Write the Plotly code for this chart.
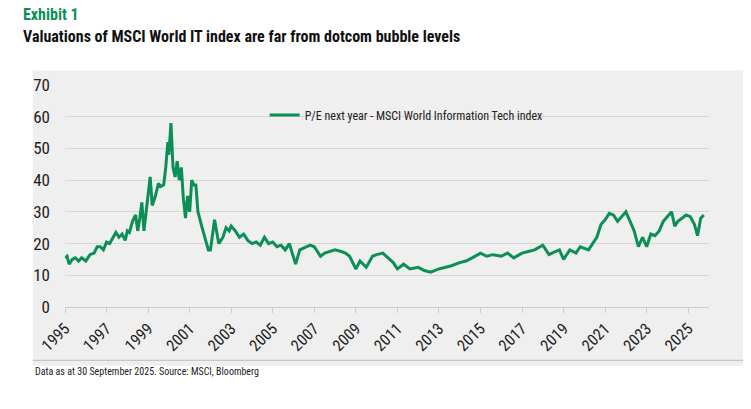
import plotly.graph_objects as go

# decimal year and forward P/E
years = [1995.0, 1995.1, 1995.2, 1995.35, 1995.5, 1995.65, 1995.8, 1995.9, 1996.0, 1996.2, 1996.4,
         1996.55, 1996.7, 1996.85, 1997.0, 1997.15, 1997.3, 1997.45, 1997.6, 1997.75, 1997.9,
         1998.0, 1998.1, 1998.25, 1998.4, 1998.5, 1998.6, 1998.7, 1998.8, 1998.9, 1999.0, 1999.1,
         1999.2, 1999.35, 1999.5, 1999.6, 1999.75, 1999.85, 1999.95, 2000.0, 2000.1, 2000.2,
         2000.3, 2000.4, 2000.5, 2000.6, 2000.7, 2000.8, 2000.9, 2001.0, 2001.1, 2001.2, 2001.3,
         2001.4, 2001.6, 2001.75, 2001.9, 2002.0, 2002.2, 2002.4, 2002.6, 2002.75, 2002.9, 2003.0,
         2003.2, 2003.4, 2003.6, 2003.8, 2004.0, 2004.2, 2004.4, 2004.6, 2004.8, 2005.0, 2005.2,
         2005.4, 2005.6, 2005.8, 2006.0, 2006.1, 2006.3, 2006.5, 2006.8, 2007.0, 2007.3, 2007.5,
         2007.7, 2008.0, 2008.3, 2008.5, 2008.7, 2009.0, 2009.2, 2009.5, 2009.8, 2010.0, 2010.3,
         2010.6, 2010.8, 2011.0, 2011.3, 2011.6, 2012.0, 2012.3, 2012.6, 2013.0, 2013.3, 2013.6,
         2014.0, 2014.3, 2014.6, 2015.0, 2015.3, 2015.6, 2016.0, 2016.3, 2016.6, 2017.0, 2017.3,
         2017.6, 2018.0, 2018.3, 2018.6, 2018.8, 2019.0, 2019.3, 2019.6, 2019.8, 2020.0, 2020.2,
         2020.4, 2020.6, 2020.8, 2021.0, 2021.2, 2021.4, 2021.6, 2021.8, 2022.0, 2022.2, 2022.4,
         2022.6, 2022.8, 2023.0, 2023.2, 2023.4, 2023.6, 2023.8, 2024.0, 2024.2, 2024.35, 2024.5,
         2024.7, 2024.9, 2025.1, 2025.3, 2025.45, 2025.6, 2025.75]
pe = [15.5, 16, 13.5, 15, 15.5, 14.5, 15.5, 15, 14.5, 16.5, 17,
      19, 19, 18, 20.5, 20, 22, 23.5, 22, 23, 21,
      24, 23.5, 27, 29, 24, 28, 33, 24, 30, 37, 41,
      32, 35, 39, 38, 38.5, 44, 52, 48, 58, 44,
      41, 46, 40, 44, 34, 28, 35, 30, 40, 38.5, 38.5,
      30, 25, 21.5, 18, 18, 27.5, 20, 22, 25, 24, 25.5,
      24, 22, 23, 21, 20, 20.5, 19.5, 22, 20, 20.5, 19,
      19.5, 18, 20, 16, 13.5, 18, 18.5, 19.5, 19, 16, 17,
      17.5, 18, 17.5, 17, 16, 12, 14.5, 12.5, 16, 16.5, 17,
      15, 14, 12, 13.5, 12, 12.5, 11.5, 11, 12, 12.5, 13,
      14, 14.5, 15.5, 17, 16, 16.5, 16, 17, 15.5, 17, 17.5,
      18, 19.5, 16.5, 17.5, 18, 15, 18, 17, 19, 18.5, 18,
      20, 22, 26, 27.5, 29.5, 29, 27, 28.5, 30, 27, 24,
      19, 22, 19, 23, 22.5, 24, 27, 28.5, 30, 25.5, 27,
      28, 29, 28.5, 26, 22.5, 28, 29]

tick_years = list(range(1995, 2026, 2))
green = "#0b8f57"

fig = go.Figure()
fig.add_trace(go.Scatter(x=years, y=pe, mode="lines", line=dict(color=green, width=3),
                         name="P/E next year - MSCI World Information Tech index"))

fig.add_shape(type="rect", xref="paper", yref="paper", x0=-0.05, x1=1.065, y0=-0.265, y1=1.065,
              fillcolor="#efefef", line_width=0, layer="below")
fig.add_shape(type="line", xref="paper", yref="paper", x0=-0.05, x1=1.065, y0=-0.24, y1=-0.24,
              line=dict(color="#bbbbbb", width=1))

fig.update_layout(
    width=751, height=409, paper_bgcolor="white", plot_bgcolor="#efefef",
    margin=dict(l=57, r=50, t=77, b=110),
    font=dict(family="Roboto Condensed, Roboto", color="#222222"),
    showlegend=True,
    legend=dict(x=0.31, y=0.93, bgcolor="rgba(0,0,0,0)", font=dict(size=12)),
    xaxis=dict(range=[1995, 2026.0], tickvals=tick_years, ticktext=[str(y) for y in tick_years],
               tickangle=-45, tickfont=dict(size=16), showgrid=False, ticks="outside",
               tickcolor="#cccccc", ticklen=5, showline=True, linecolor="#cccccc", zeroline=False),
    yaxis=dict(range=[0, 70], dtick=10, tickfont=dict(size=17), gridcolor="#d6d6d6",
               zeroline=False, ticks="", ticklabelstandoff=14),
    annotations=[
        dict(text="<b>Exhibit 1</b>", xref="paper", yref="paper", x=-0.068, y=1.37,
             xanchor="left", showarrow=False, font=dict(size=16, color=green)),
        dict(text="<b>Valuations of MSCI World IT index are far from dotcom bubble levels</b>",
             xref="paper", yref="paper", x=-0.068, y=1.27, xanchor="left", showarrow=False,
             font=dict(size=16, color="#111111")),
        dict(text="Data as at 30 September 2025. Source: MSCI, Bloomberg", xref="paper",
             yref="paper", x=-0.05, y=-0.325, xanchor="left", showarrow=False,
             font=dict(size=10, color="#222222")),
    ],
)
fig.update_layout(margin=dict(t=77, b=110))

fig.write_html("out.html")
